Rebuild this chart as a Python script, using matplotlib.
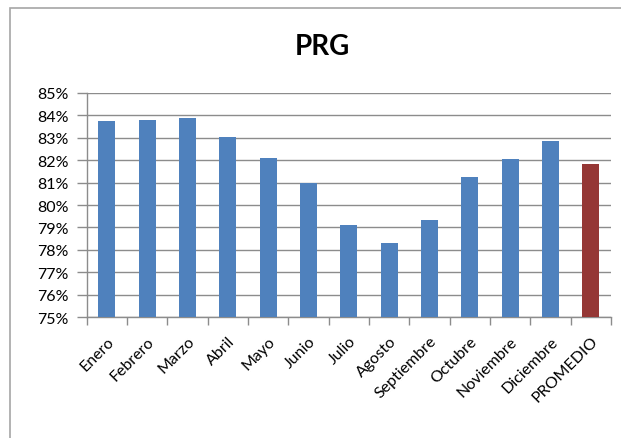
import matplotlib
matplotlib.use("Agg")
import matplotlib.pyplot as plt
from matplotlib.patches import Rectangle
from matplotlib.ticker import FixedLocator, PercentFormatter

# monthly PRG values (%) plus the yearly average
months = ["Enero", "Febrero", "Marzo", "Abril", "Mayo", "Junio", "Julio",
          "Agosto", "Septiembre", "Octubre", "Noviembre", "Diciembre", "PROMEDIO"]
prg = [83.74, 83.81, 83.90, 83.04, 82.11, 81.00, 79.12,
       78.30, 79.33, 81.24, 82.05, 82.87, 81.82]
bar_colors = ["#4F81BD"] * 12 + ["#953735"]

plt.rcParams["font.family"] = ["Lato", "DejaVu Sans"]

fig = plt.figure(figsize=(6.21, 4.39), dpi=100)
ax = fig.add_axes([0.1396, 0.2756, 0.8444, 0.5103])

# chart frame
fig.patches.append(Rectangle((10 / 621, -0.1), 1.2, 1 - 9 / 439 + 0.1,
                             transform=fig.transFigure, fill=False,
                             edgecolor="#a6a6a6", linewidth=1.2))

x = range(len(months))
ax.bar(x, prg, width=0.42, color=bar_colors, zorder=3)

ax.set_ylim(75, 85)
ax.set_xlim(-0.5, len(months) - 0.5)
ax.set_yticks(range(75, 86))
ax.yaxis.set_major_formatter(PercentFormatter(decimals=0))
ax.grid(axis="y", color="#8c8c8c", linewidth=1.0, zorder=0)

ax.set_xticks(list(x))
ax.set_xticklabels(months, rotation=45, ha="right", va="top",
                   rotation_mode="anchor", fontsize=11.5)
ax.xaxis.set_minor_locator(FixedLocator([i - 0.5 for i in range(len(months) + 1)]))
ax.tick_params(axis="x", which="major", length=0, pad=12)
ax.tick_params(axis="x", which="minor", length=6, color="#8c8c8c", width=1)
ax.tick_params(axis="y", length=7, color="#8c8c8c", width=1, labelsize=11.5, pad=6)

for side in ["top", "right"]:
    ax.spines[side].set_visible(False)
for side in ["left", "bottom"]:
    ax.spines[side].set_color("#8c8c8c")
    ax.spines[side].set_linewidth(1)

fig.text(0.519, 1 - 47 / 439, "PRG", ha="center", va="center",
         fontsize=20, fontweight="bold")

fig.savefig("out.png", dpi=100, facecolor="white")
